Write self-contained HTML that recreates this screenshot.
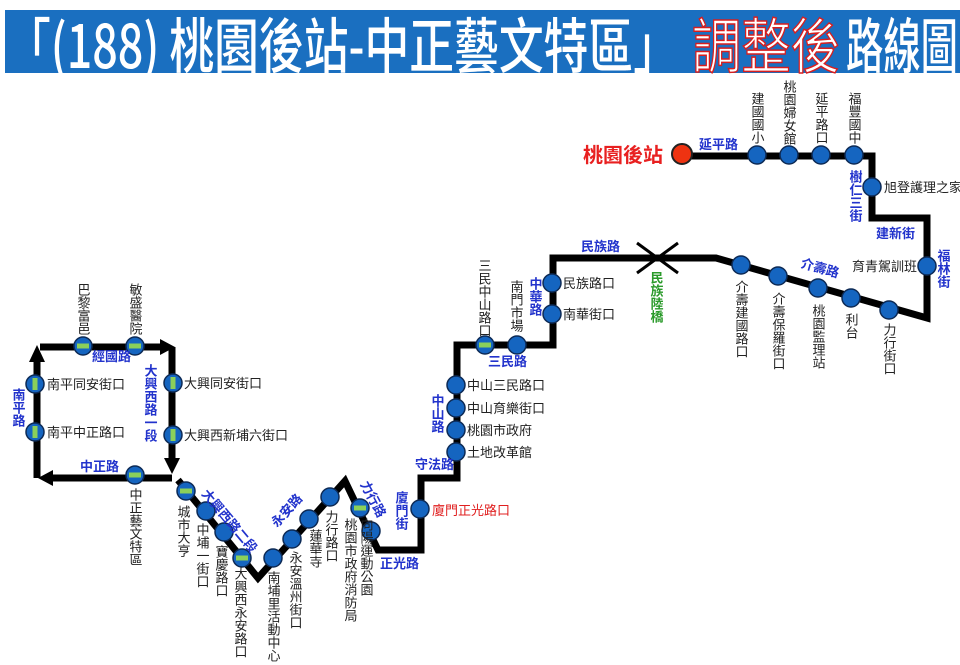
<!DOCTYPE html>
<html><head><meta charset="utf-8"><style>
html,body{margin:0;padding:0;background:#fff;}
svg{display:block;font-family:"Liberation Sans","Noto Sans CJK TC",sans-serif;}
.v{writing-mode:vertical-rl;text-orientation:upright;font-size:13px;fill:#222;}
.vb{writing-mode:vertical-rl;text-orientation:upright;font-size:13px;fill:#2233cc;font-weight:bold;}
.h{font-size:13px;fill:#222;}
.hb{font-size:13px;fill:#2233cc;font-weight:bold;}
</style></head><body>
<svg width="960" height="665" viewBox="0 0 960 665" xmlns="http://www.w3.org/2000/svg">
<defs>
<g id="st"><circle r="9" fill="#1565c0" stroke="#0d2a55" stroke-width="1.5"/></g>
<g id="gs"><circle r="9" fill="#1565c0" stroke="#0d2a55" stroke-width="1.5"/><rect x="-6" y="-2.5" width="12" height="5" fill="#8bd05a"/></g>
<g id="gv"><circle r="9" fill="#1565c0" stroke="#0d2a55" stroke-width="1.5"/><rect x="-2.5" y="-6" width="5" height="12" fill="#8bd05a"/></g>
</defs>
<!-- title -->
<rect x="5" y="10" width="955" height="63" fill="#1a6fc0"/>
<text x="6" y="68" font-size="60" font-weight="500" fill="#fff" font-family="'Noto Sans CJK TC',sans-serif" textLength="672" lengthAdjust="spacingAndGlyphs">「(188) 桃園後站-中正藝文特區」</text>
<text x="692" y="68" font-size="60" fill="#fff" stroke="#d81e1e" stroke-width="1.5" font-family="'Noto Sans CJK TC',sans-serif" textLength="148" lengthAdjust="spacingAndGlyphs">調整後</text>
<text x="846" y="68" font-size="60" font-weight="500" fill="#fff" font-family="'Noto Sans CJK TC',sans-serif" textLength="112" lengthAdjust="spacingAndGlyphs">路線圖</text>

<!-- route lines -->
<g stroke="#000" stroke-width="7" fill="none" stroke-linejoin="miter">
<polyline points="40,347 160,347"/>
<polyline points="172,347 172,462"/>
<polyline points="172,478 50,478"/>
<polyline points="37,478 37,360"/>
<polyline points="178,480 258,578 345,481 378,550 421,550 421,478 457,478 457,345 553,345 553,258 716,258 927,318 927,218 872,218 872,156 682,156"/>
</g>
<!-- arrowheads -->
<g fill="#000">
<polygon points="160,339 175,347 160,355"/>
<polygon points="164,458 172,474 180,458"/>
<polygon points="53,470 38,478 53,486"/>
<polygon points="29,362 37,345 45,362"/>
</g>
<!-- bridge X -->
<g stroke="#000" stroke-width="3"><line x1="637" y1="243" x2="678" y2="273"/><line x1="637" y1="273" x2="678" y2="243"/></g>

<!-- stations -->
<use href="#gs" x="83" y="346"/><use href="#gs" x="135" y="346"/>
<use href="#gv" x="35" y="384"/><use href="#gv" x="35" y="432"/>
<use href="#gv" x="173" y="383"/><use href="#gv" x="173" y="435"/>
<use href="#gs" x="135" y="475"/>
<use href="#gs" x="186" y="491"/><use href="#st" x="206" y="511"/><use href="#st" x="224" y="532"/><use href="#gs" x="242" y="558"/>
<use href="#st" x="273" y="558"/><use href="#st" x="292" y="539"/><use href="#st" x="309" y="519"/><use href="#st" x="330" y="497"/>
<use href="#gs" x="360" y="508"/><use href="#st" x="371" y="531"/>
<use href="#st" x="420" y="509"/>
<use href="#st" x="456" y="385"/><use href="#st" x="456" y="408"/><use href="#st" x="456" y="430"/><use href="#st" x="456" y="452"/>
<use href="#gs" x="485" y="345"/><use href="#st" x="517" y="345"/>
<use href="#st" x="552" y="283"/><use href="#st" x="552" y="314"/>
<use href="#st" x="741" y="265"/><use href="#st" x="778" y="276"/><use href="#st" x="818" y="288"/><use href="#st" x="851" y="298"/><use href="#st" x="889" y="310"/>
<use href="#st" x="927" y="266"/><use href="#st" x="872" y="187"/>
<use href="#st" x="757" y="155"/><use href="#st" x="789" y="155"/><use href="#st" x="821" y="155"/><use href="#st" x="854" y="155"/>
<circle cx="682" cy="154" r="10" fill="#ee3311" stroke="#222" stroke-width="2"/>

<!-- labels -->
<text class="v" x="83" y="283">巴黎富邑</text>
<text class="v" x="135" y="283">敏盛醫院</text>
<text class="hb" x="92" y="361">經國路</text>
<text class="vb" x="18" y="388">南平路</text>
<text class="h" x="47" y="389">南平同安街口</text>
<text class="h" x="47" y="437">南平中正路口</text>
<text class="vb" x="150" y="364">大興西路一段</text>
<text class="h" x="184" y="388">大興同安街口</text>
<text class="h" x="184" y="440">大興西新埔六街口</text>
<text class="hb" x="80" y="471">中正路</text>
<text class="v" x="135" y="488">中正藝文特區</text>
<text class="v" x="183" y="505">城市大亨</text>
<text class="v" x="202" y="523">中埔一街口</text>
<text class="v" x="221" y="545">寶慶路口</text>
<text class="v" x="240" y="567">大興西永安路口</text>
<text class="hb" transform="translate(201,494) rotate(50)">大興西路二段</text>
<text class="v" x="273" y="571">南埔里活動中心</text>
<text class="v" x="295" y="551">永安溫州街口</text>
<text class="v" x="315" y="529">蓮華寺</text>
<text class="v" x="331" y="510">力行路口</text>
<text class="hb" transform="translate(277,528) rotate(-48)">永安路</text>
<text class="hb" transform="translate(360,484) rotate(62)">力行路</text>
<text class="v" x="350" y="518">桃園市政府消防局</text>
<text class="v" x="366" y="518">向陽運動公園</text>
<text class="hb" x="380" y="568">正光路</text>
<text class="vb" x="401" y="491">廈門街</text>
<text class="h" x="432" y="515" style="fill:#e02020">廈門正光路口</text>
<text class="hb" x="415" y="469">守法路</text>
<text class="vb" x="437" y="394">中山路</text>
<text class="h" x="467" y="390">中山三民路口</text>
<text class="h" x="467" y="413">中山育樂街口</text>
<text class="h" x="467" y="435">桃園市政府</text>
<text class="h" x="467" y="457">土地改革館</text>
<text class="hb" x="488" y="366">三民路</text>
<text class="v" x="484" y="259">三民中山路口</text>
<text class="v" x="516" y="280">南門市場</text>
<text class="vb" x="535" y="277">中華路</text>
<text class="h" x="563" y="288">民族路口</text>
<text class="h" x="563" y="319">南華街口</text>
<text class="hb" x="581" y="251">民族路</text>
<text class="v" x="656" y="271" style="fill:#2a9a2a;font-weight:bold">民族陸橋</text>
<text class="hb" transform="translate(800,267) rotate(16)">介壽路</text>
<text class="v" x="741" y="280">介壽建國路口</text>
<text class="v" x="778" y="292">介壽保羅街口</text>
<text class="v" x="818" y="304">桃園監理站</text>
<text class="v" x="851" y="313">利台</text>
<text class="v" x="889" y="323">力行街口</text>
<text class="h" x="917" y="271" text-anchor="end">育青駕訓班</text>
<text class="vb" x="943" y="249">福林街</text>
<text class="hb" x="876" y="238">建新街</text>
<text class="h" x="884" y="192">旭登護理之家</text>
<text class="vb" x="855" y="170">樹仁三街</text>
<text class="v" x="757" y="92">建國國小</text>
<text class="v" x="789" y="80">桃園婦女館</text>
<text class="v" x="821" y="92">延平路口</text>
<text class="v" x="854" y="92">福豐國中</text>
<text class="hb" x="699" y="149">延平路</text>
<text x="663" y="162" text-anchor="end" font-size="20" font-weight="bold" fill="#e82020">桃園後站</text>
</svg>
</body></html>
